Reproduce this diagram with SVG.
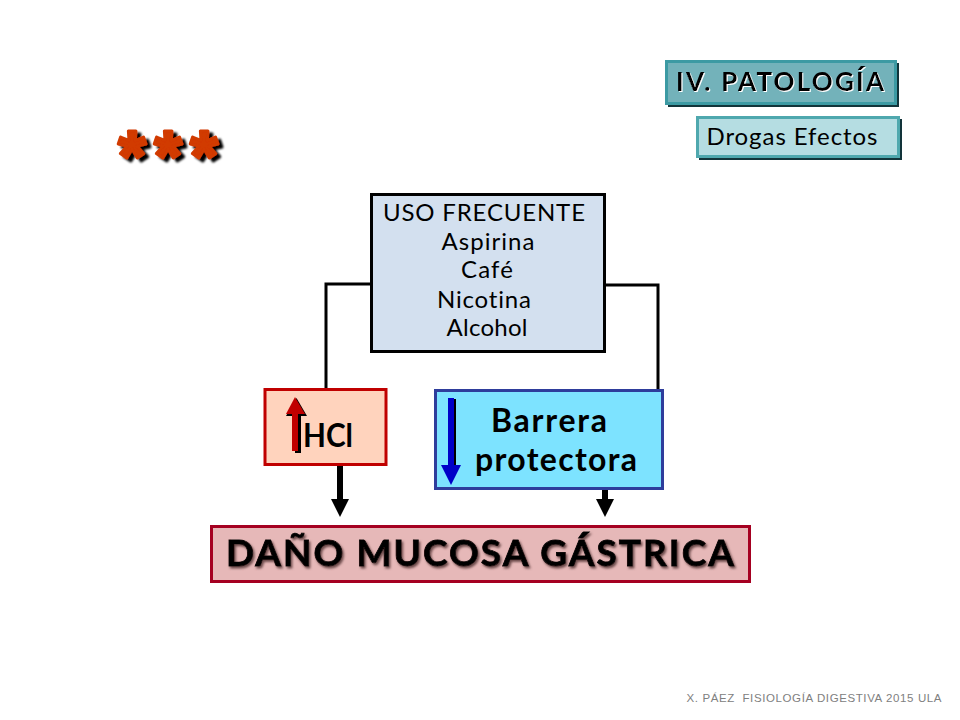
<svg xmlns="http://www.w3.org/2000/svg" width="960" height="720" viewBox="0 0 960 720">
<defs>
<marker id="ah" markerUnits="userSpaceOnUse" markerWidth="18" markerHeight="18" refX="0" refY="9" orient="auto"><path d="M0 0L18 9L0 18Z" fill="#000"/></marker>
<filter id="sh1" x="-5%" y="-20%" width="110%" height="140%"><feDropShadow dx="1" dy="1" stdDeviation="0.6" flood-color="#fff"/></filter>
<filter id="sh2" x="-5%" y="-20%" width="110%" height="140%"><feDropShadow dx="1.500" dy="2" stdDeviation="1" flood-color="#6b4a4a"/></filter>
<filter id="sh3" x="-10%" y="-20%" width="125%" height="150%"><feDropShadow dx="4" dy="3" stdDeviation="0.8" flood-color="#000"/></filter>
</defs>
<style>
text{font-family:"Lato","Open Sans","DejaVu Sans",sans-serif;fill:#000;text-anchor:middle;font-variant-ligatures:none}
.b{font-weight:700}
.conn{fill:none;stroke:#000;stroke-width:3}
.hv{fill:none;stroke:#000;stroke-width:6}
</style>
<rect width="960" height="720" fill="#fff"/>
<g id="connectors">
<path class="conn" d="M371 284H326V390"/>
<path class="conn" d="M605 285H658V390"/>
<path class="hv" d="M340 465V499" marker-end="url(#ah)"/>
<path class="hv" d="M605 489V499" marker-end="url(#ah)"/>
</g>
<g id="title">
<rect x="668" y="63" width="231" height="44" fill="#12343a"/>
<rect x="666.500" y="61.500" width="229" height="42" fill="#73b2ba" stroke="#3c9aa3" stroke-width="3"/>
<text class="b" x="780" y="91" font-size="26" textLength="208" lengthAdjust="spacing" filter="url(#sh1)">IV. PATOLOGÍA</text>
</g>
<g id="subtitle">
<rect x="699" y="119" width="203" height="41" fill="#12343a"/>
<rect x="697.500" y="117.500" width="201" height="39" fill="#b5dde2" stroke="#4fa8ae" stroke-width="3"/>
<text x="792" y="145" font-size="24" textLength="171" lengthAdjust="spacing">Drogas Efectos</text>
</g>
<g id="stars">
<text class="b" x="168" y="181" font-size="72" textLength="100" lengthAdjust="spacing" filter="url(#sh3)" stroke="#d13a00" stroke-width="3" stroke-linejoin="round" style="font-family:'Liberation Sans',sans-serif;fill:#d13a00">***</text>
</g>
<g id="uso">
<rect x="371.500" y="194.500" width="233" height="157" fill="#d3e0ef" stroke="#000" stroke-width="3"/>
<text x="484" y="221" font-size="24" textLength="202" lengthAdjust="spacing">USO FRECUENTE</text>
<text x="488" y="250" font-size="24" textLength="93" lengthAdjust="spacing">Aspirina</text>
<text x="487" y="278" font-size="24" textLength="52" lengthAdjust="spacing">Café</text>
<text x="484" y="308" font-size="24" textLength="94" lengthAdjust="spacing">Nicotina</text>
<text x="487" y="336" font-size="24" textLength="81" lengthAdjust="spacing">Alcohol</text>
</g>
<g id="hcl">
<rect x="265" y="389.500" width="121" height="75" fill="#ffd3bd" stroke="#c00000" stroke-width="3"/>
<path d="M298 408V453" fill="none" stroke="#000" stroke-width="6"/>
<path d="M296.500 398L307 416H286Z" fill="#000"/>
<path d="M295 409V451" fill="none" stroke="#c00000" stroke-width="6"/>
<path d="M295 397L305 414H286Z" fill="#c00000"/>
<text class="b" x="328" y="447" font-size="32" textLength="50" lengthAdjust="spacingAndGlyphs">HCl</text>
</g>
<g id="barrera">
<rect x="435.500" y="390.500" width="227" height="98" fill="#7de3ff" stroke="#2e3d9c" stroke-width="3"/>
<path d="M453 399V470" fill="none" stroke="#000" stroke-width="6"/>
<path d="M451 398V470" fill="none" stroke="#0000c8" stroke-width="6"/>
<path d="M441 465H461L451 485Z" fill="#0000c8"/>
<text class="b" x="549" y="432" font-size="32" textLength="116" lengthAdjust="spacing">Barrera</text>
<text class="b" x="556" y="471" font-size="32" textLength="162" lengthAdjust="spacing">protectora</text>
</g>
<g id="dano">
<rect x="211.500" y="526.500" width="538" height="55" fill="#e6b8b8" stroke="#a50021" stroke-width="3"/>
<text class="b" x="480" y="566" font-size="37" textLength="508" lengthAdjust="spacing" stroke="#000" stroke-width="0.8" filter="url(#sh2)">DAÑO MUCOSA GÁSTRICA</text>
</g>
<g id="footer">
<text x="814" y="702" font-size="11.500" textLength="255" lengthAdjust="spacing" xml:space="preserve" style="font-family:'Liberation Sans',sans-serif;fill:#808080;white-space:pre">X. PÁEZ  FISIOLOGÍA DIGESTIVA 2015 ULA</text>
</g>
</svg>
